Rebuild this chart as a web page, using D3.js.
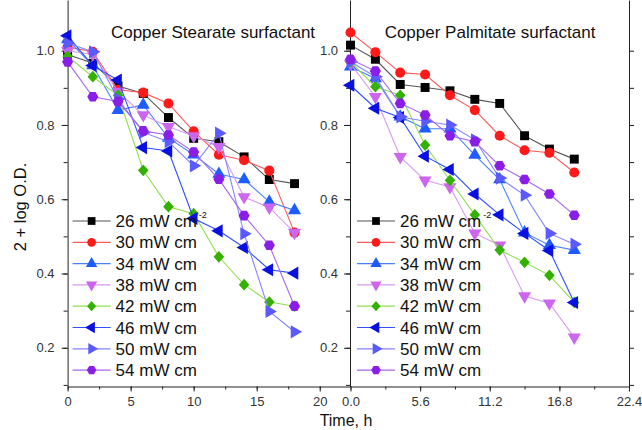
<!DOCTYPE html>
<meta charset="utf-8">
<style>
  body { margin: 0; background: #fff; }
  svg { display: block; font-family: "Liberation Sans", Arial, sans-serif; }
  .tick text { fill: #333; font-size: 13px; }
  .domain, .tick line { stroke: #222; }
</style>
<svg width="642" height="430"></svg>
<script src="https://cdn.jsdelivr.net/npm/d3@7"></script>
<script>

// time axis, hours
var times = [0, 2, 4, 6, 8, 10, 12, 14, 16, 18];
var powers = ["26", "30", "34", "38", "42", "46", "50", "54"];

// Copper Stearate, 2 + log O.D.
var stearate26 = [0.99, 0.966, 0.905, 0.885, 0.82, 0.764, 0.755, 0.714, 0.653, 0.642];
var stearate30 = [1.01, 0.997, 0.895, 0.887, 0.858, 0.783, 0.72, 0.705, 0.677, 0.51];
var stearate34 = [1.03, 0.96, 0.84, 0.854, 0.765, 0.72, 0.668, 0.653, 0.593, 0.57];
var stearate38 = [1.0, 0.99, 0.89, 0.827, 0.795, 0.77, 0.741, 0.606, 0.578, 0.51];
var stearate42 = [0.985, 0.93, 0.88, 0.678, 0.58, 0.561, 0.445, 0.37, 0.323, 0.312];
var stearate46 = [1.04, 0.96, 0.921, 0.739, 0.73, 0.548, 0.515, 0.47, 0.41, 0.401];
var stearate50 = [1.02, 0.997, 0.87, 0.78, 0.755, 0.69, 0.778, 0.507, 0.298, 0.243];
var stearate54 = [0.97, 0.876, 0.863, 0.784, 0.773, 0.727, 0.654, 0.556, 0.476, 0.312];

// Copper Palmitate, 2 + log O.D.
var palmitate26 = [1.015, 0.977, 0.909, 0.901, 0.892, 0.869, 0.858, 0.771, 0.735, 0.708];
var palmitate30 = [1.049, 0.996, 0.941, 0.936, 0.88, 0.84, 0.771, 0.732, 0.725, 0.672];
var palmitate34 = [0.957, 0.925, 0.822, 0.79, 0.79, 0.719, 0.653, 0.51, 0.476, 0.463];
var palmitate38 = [0.965, 0.876, 0.714, 0.651, 0.633, 0.508, 0.476, 0.339, 0.32, 0.228];
var palmitate42 = [0.97, 0.903, 0.88, 0.746, 0.651, 0.558, 0.463, 0.43, 0.395, 0.322];
var palmitate46 = [0.907, 0.845, 0.82, 0.716, 0.68, 0.614, 0.558, 0.508, 0.462, 0.322];
var palmitate50 = [0.97, 0.93, 0.822, 0.81, 0.80, 0.76, 0.657, 0.611, 0.508, 0.479];
var palmitate54 = [0.977, 0.945, 0.858, 0.827, 0.771, 0.755, 0.69, 0.653, 0.614, 0.557];

var stearate = [stearate26, stearate30, stearate34, stearate38, stearate42, stearate46, stearate50, stearate54];
var palmitate = [palmitate26, palmitate30, palmitate34, palmitate38, palmitate42, palmitate46, palmitate50, palmitate54];

var leftTicks = [0, 5, 10, 15, 20];
var rightTicks = [0, 5.6, 11.2, 16.8, 22.4];
var yTicks = [0.2, 0.4, 0.6, 0.8, 1.0];

var markColor = ["#000000", "#ff1a1a", "#1f5cff", "#cc66ee", "#33b000", "#0a10e0", "#5a5aff", "#8a1ee6"];
var lineColor = ["#555555", "#ff5a5a", "#4a80ff", "#d79af2", "#8fe050", "#3050ff", "#8484ff", "#a866f0"];

var hexagon = {
  draw: function(ctx, size) {
    var r = Math.sqrt(size / (1.5 * Math.sqrt(3)));
    for (var i = 0; i < 6; i++) {
      var a = Math.PI / 3 * i;
      if (i === 0) ctx.moveTo(r * Math.cos(a), r * Math.sin(a));
      else ctx.lineTo(r * Math.cos(a), r * Math.sin(a));
    }
    ctx.closePath();
  }
};
// rhombus a little narrower than tall
var rhombus = {
  draw: function(ctx, size) {
    var h = Math.sqrt(size / 1.8);
    var w = h * 0.9;
    ctx.moveTo(0, -h);
    ctx.lineTo(w, 0);
    ctx.lineTo(0, h);
    ctx.lineTo(-w, 0);
    ctx.closePath();
  }
};
// [type, size, rotation]
var shapes = [
  [d3.symbolSquare, 80, 0],
  [d3.symbolCircle, 80, 0],
  [d3.symbolTriangle, 75, 0],
  [d3.symbolTriangle, 75, 180],
  [rhombus, 62, 0],
  [d3.symbolTriangle, 75, -90],
  [d3.symbolTriangle, 75, 90],
  [hexagon, 80, 0]
];

var svg = d3.select("svg");
var plotTop = 0, plotBottom = 386.5;

var y = d3.scaleLinear().domain([0.1, 1.0]).range([384.9, 50.7]);
var yFull = y.copy().domain([y.invert(plotBottom), y.invert(plotTop)]).range([plotBottom, plotTop]);
var xLeft = d3.scaleLinear().domain([0, 22.4]).range([67.6, 350]);
var xRight = d3.scaleLinear().domain([0, 22.4]).range([350.5, 629]);

var minorY = d3.range(1, 11).map(function(i) { return i / 10; });

function panel(x, ticks, fmt, data, title, titleX) {
  var g = svg.append("g");
  var isRight = (x === xRight);

  // bottom axis with minor ticks
  var step = ticks[1] - ticks[0];
  var minor = d3.range(0, 9).map(function(i) { return i * step / 2; }).filter(function(v) { return v <= 22.45; });
  g.append("g")
      .attr("transform", "translate(0," + plotBottom + ")")
      .call(d3.axisBottom(x).tickValues(minor).tickSize(3).tickFormat(""))
      .call(function(a) { a.select(".domain").remove(); });
  g.append("g")
      .attr("transform", "translate(0," + plotBottom + ")")
      .call(d3.axisBottom(x).tickValues(ticks).tickSize(5).tickPadding(5).tickSizeOuter(0).tickFormat(d3.format(fmt)));

  // left axis of the panel
  var x0 = isRight ? 350 : x.range()[0];
  g.append("g")
      .attr("transform", "translate(" + x0 + ",0)")
      .call(d3.axisLeft(yFull).tickValues(minorY).tickSize(4).tickFormat(""))
      .call(function(a) { a.select(".domain").remove(); });
  g.append("g")
      .attr("transform", "translate(" + x0 + ",0)")
      .call(d3.axisLeft(yFull).tickValues(yTicks).tickSize(6).tickPadding(isRight ? 6 : 7).tickSizeOuter(0).tickFormat(d3.format(".1f")));

  // curves
  var line = d3.line()
      .x(function(d, i) { return x(times[i]); })
      .y(function(d) { return y(d); });

  data.forEach(function(vals, k) {
    g.append("path")
        .datum(vals)
        .attr("fill", "none")
        .attr("stroke", lineColor[k])
        .attr("stroke-width", 1.1)
        .attr("d", line);
    g.selectAll(null)
        .data(vals)
      .enter().append("path")
        .attr("fill", markColor[k])
        .attr("transform", function(d, i) {
          return "translate(" + x(times[i]) + "," + y(d) + ") rotate(" + shapes[k][2] + ")";
        })
        .attr("d", d3.symbol().type(shapes[k][0]).size(shapes[k][1]));
  });

  g.append("text")
      .attr("x", titleX)
      .attr("y", 38)
      .attr("text-anchor", "middle")
      .attr("font-size", 17)
      .attr("fill", "#111")
      .text(title);

  // legend
  var lx = x0 + (isRight ? 7 : 5);
  var leg = g.append("g").attr("transform", "translate(" + lx + ",221)");
  powers.forEach(function(p, k) {
    var row = leg.append("g").attr("transform", "translate(0," + (k * 21.3) + ")");
    row.append("line")
        .attr("x1", 0).attr("x2", 38)
        .attr("stroke", lineColor[k]).attr("stroke-width", 1.2);
    row.append("path")
        .attr("fill", markColor[k])
        .attr("transform", "translate(19,0) rotate(" + shapes[k][2] + ")")
        .attr("d", d3.symbol().type(shapes[k][0]).size(shapes[k][1] * 0.75));
    var t = row.append("text")
        .attr("x", 43)
        .attr("y", 6)
        .attr("font-size", 17)
        .attr("fill", "#111")
        .text(p + " mW cm");
    if (k === 0) {
      row.append("text")
          .attr("x", 43 + t.node().getComputedTextLength() + 2)
          .attr("y", -3)
          .attr("font-size", 9)
          .attr("fill", "#111")
          .text("-2");
    }
  });
}

panel(xLeft, leftTicks, "d", stearate, "Copper Stearate surfactant", 213);
panel(xRight, rightTicks, ".1f", palmitate, "Copper Palmitate surfactant", 490);

// right border with outward ticks
svg.append("g")
    .attr("transform", "translate(629,0)")
    .call(d3.axisRight(yFull).tickValues(minorY).tickSize(5).tickSizeOuter(0).tickFormat(""));

svg.append("text")
    .attr("transform", "translate(26,207) rotate(-90)")
    .attr("text-anchor", "middle")
    .attr("font-size", 16.5)
    .attr("fill", "#111")
    .text("2 + log O.D.");

svg.append("text")
    .attr("x", 346)
    .attr("y", 426)
    .attr("text-anchor", "middle")
    .attr("font-size", 16)
    .attr("fill", "#111")
    .text("Time, h");

</script>
